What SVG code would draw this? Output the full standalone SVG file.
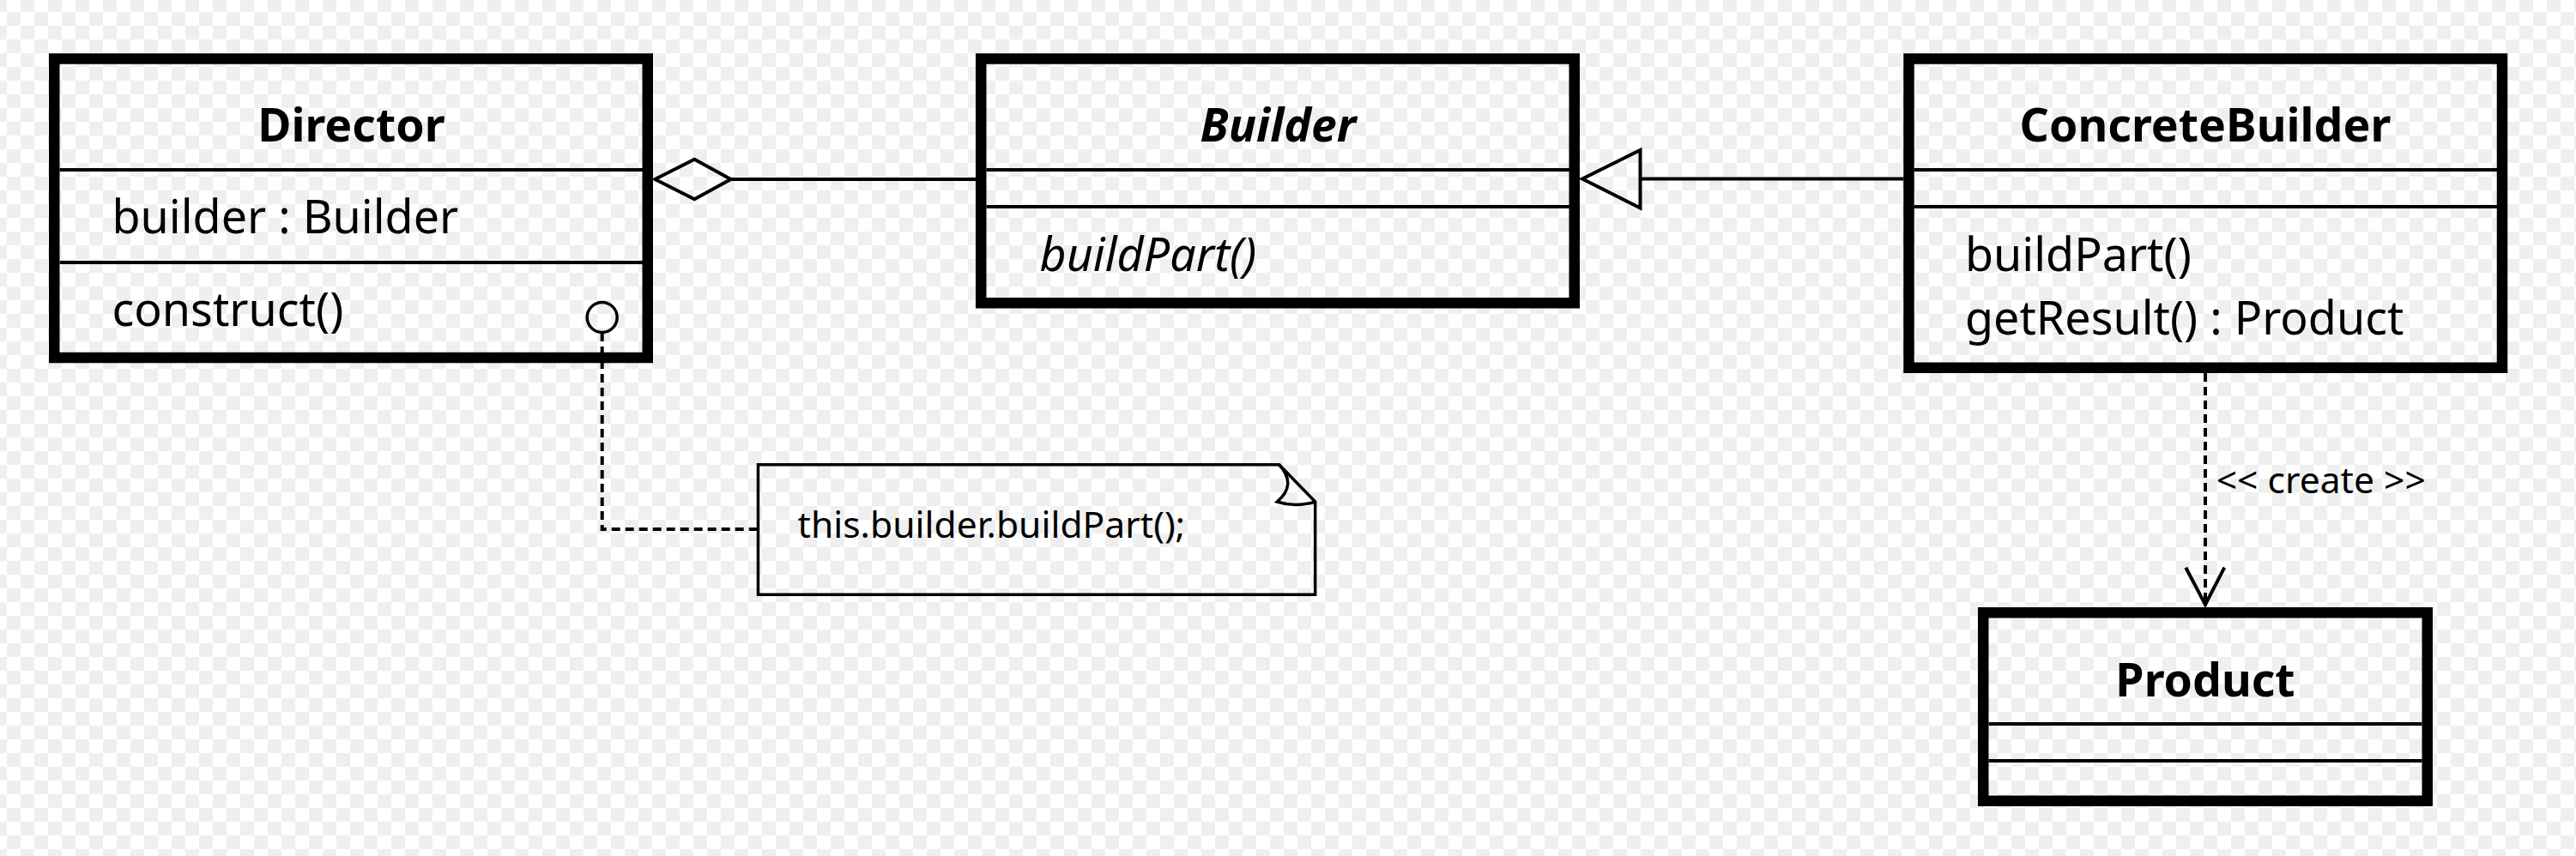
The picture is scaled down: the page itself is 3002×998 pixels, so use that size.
<svg xmlns="http://www.w3.org/2000/svg" width="3002" height="998" viewBox="0 0 3002 998">
<defs>
<pattern id="checker" x="8" y="14" width="32" height="32" patternUnits="userSpaceOnUse">
<rect width="32" height="32" fill="#ffffff"/>
<rect width="16" height="16" fill="#efefef"/>
<rect x="16" y="16" width="16" height="16" fill="#efefef"/>
</pattern>
<style>
.box{fill:none;stroke:#000;stroke-width:12.5}
.div{stroke:#000;stroke-width:4}
.title{font-family:"Noto Sans","Open Sans",sans-serif;font-weight:bold;font-size:53.6px;text-anchor:middle;fill:#000}
.member{font-family:"Noto Sans","Open Sans",sans-serif;font-size:53.8px;fill:#000}
.small{font-family:"Noto Sans","Open Sans",sans-serif;font-size:42.6px;fill:#000}
.line{fill:none;stroke:#000;stroke-width:4}
.thin{fill:none;stroke:#000;stroke-width:3.5}
.dash{fill:none;stroke:#000;stroke-width:4;stroke-dasharray:10 6}
</style>
</defs>
<rect width="3002" height="998" fill="url(#checker)"/>

<g id="connectors">
<g id="aggregation">
<line class="line" x1="851.7" y1="209" x2="1137" y2="209"/>
<polygon class="line" points="763.3,209 809.3,185.7 851.7,209 809.3,232.3"/>
</g>
<g id="generalization">
<line class="line" x1="1911.5" y1="208.5" x2="2218" y2="208.5"/>
<polygon class="line" points="1844,208.5 1911.5,175 1911.5,242.5"/>
</g>
<g id="create">
<line class="dash" x1="2570" y1="435" x2="2570" y2="703"/>
<polyline class="line" points="2547.3,661.7 2570,705 2592.3,661.7"/>
<text class="small" x="2582.7" y="575">&lt;&lt; create &gt;&gt;</text>
</g>
<g id="note-link">
<circle class="thin" cx="701.7" cy="370" r="17.5"/>
<path class="dash" d="M701.7,388 V617 H883.5"/>
</g>
</g>

<g id="director">
<rect class="box" x="63.25" y="68.5" width="691.5" height="348.5"/>
<line class="div" x1="69.5" y1="198" x2="749" y2="198"/>
<line class="div" x1="69.5" y1="306" x2="749" y2="306"/>
<text class="title" x="409.5" y="165">Director</text>
<text class="member" x="130.5" y="272">builder : Builder</text>
<text class="member" x="130.5" y="380">construct()</text>
</g>

<g id="builder">
<rect class="box" x="1143.25" y="68.5" width="691.5" height="284.75"/>
<line class="div" x1="1149.5" y1="198" x2="1829" y2="198"/>
<line class="div" x1="1149.5" y1="241" x2="1829" y2="241"/>
<text class="title" x="1489.5" y="165" font-style="italic">Builder</text>
<text class="member" x="1211.5" y="316" font-style="italic">buildPart()</text>
</g>

<g id="concrete-builder">
<rect class="box" x="2224.5" y="68.5" width="691.5" height="360.25"/>
<line class="div" x1="2230.5" y1="198" x2="2910" y2="198"/>
<line class="div" x1="2230.5" y1="241" x2="2910" y2="241"/>
<text class="title" x="2570" y="165">ConcreteBuilder</text>
<text class="member" x="2290" y="316">buildPart()</text>
<text class="member" x="2290" y="390">getResult() : Product</text>
</g>

<g id="product">
<rect class="box" x="2311.25" y="714.25" width="517.5" height="219.5"/>
<line class="div" x1="2317.5" y1="844" x2="2822.5" y2="844"/>
<line class="div" x1="2317.5" y1="887" x2="2822.5" y2="887"/>
<text class="title" x="2570" y="812">Product</text>
</g>

<g id="note">
<path class="thin" d="M883.5,541.7 H1490.7 L1532.7,585 V693.3 H883.5 Z"/>
<path class="thin" d="M1490.7,541.7 Q1512,565 1488.3,585 Q1510,592 1532.7,585"/>
<text class="small" x="929.5" y="627">this.builder.buildPart();</text>
</g>
</svg>
